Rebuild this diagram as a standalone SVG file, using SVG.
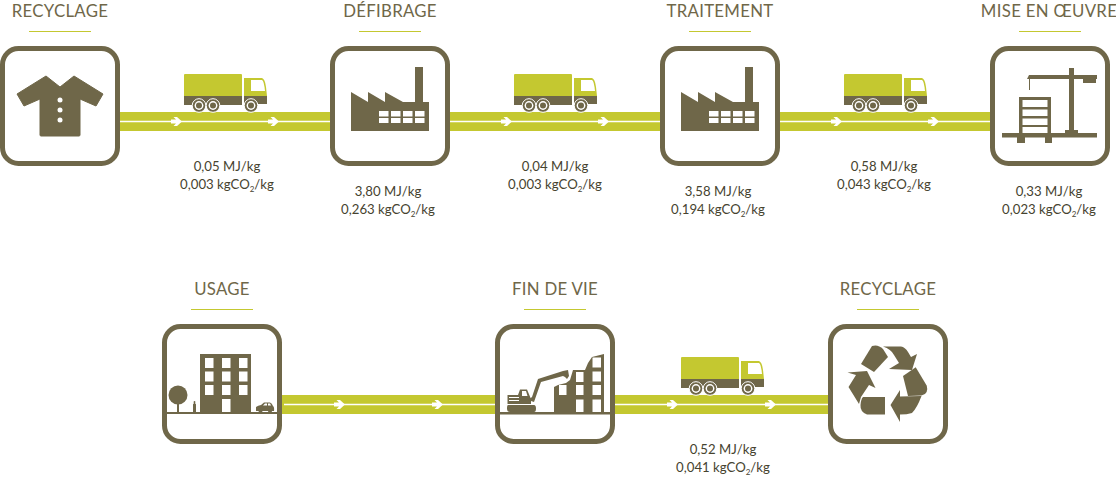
<svg xmlns="http://www.w3.org/2000/svg" width="1116" height="477" viewBox="0 0 1116 477">
<style>
.t{font-family:Lato,"Noto Sans",sans-serif;font-size:16.800px;fill:#6f6749;text-anchor:middle;letter-spacing:.3px}
.v{font-family:Lato,"Noto Sans",sans-serif;font-size:13.200px;fill:#46432f;text-anchor:middle}
.s{font-size:8px}
.u{stroke:#c4c830;stroke-width:1;fill:none}
.b{fill:#fff;stroke:#6f6749;stroke-width:5}
.o{fill:#6f6749}
.w{fill:#fff}
.l{fill:#c4c830}
.r{stroke:#fff;stroke-width:1.5;fill:none}
.a{fill:#fff}
</style>
<defs>
<g id="truck">
<path class="l" d="M185 74H241Q242 74 242 75V96H184V75Q184 74 185 74Z"/>
<path class="o" d="M184 96H242V105H184Z"/>
<path class="l" d="M244 78H262Q265 79 266 87L267 96H244Z"/>
<path class="o" d="M244 96H267V104H244Z"/>
<path class="w" d="M251 80H262Q264 81 265 91H251Z"/>
<g id="wh"><circle class="o" cx="199" cy="105.500" r="6.800" stroke="#fff" stroke-width="1"/><circle class="w" cx="199" cy="105.500" r="4.400"/><circle class="o" cx="199" cy="105.500" r="3"/></g>
<use href="#wh" x="14"/>
<use href="#wh" x="52"/>
</g>
<path id="arr" class="a" d="M171 119.500H176L173.500 117H177L182 121.500L177 126H173.500L176 123.500H171Z"/>
<g id="factory">
<path class="o" d="M351 92L368 102V92L385 102V92L403 102H415V67H423V102H429V131H351Z"/>
<g class="w">
<rect x="379" y="111" width="9.500" height="5.500"/><rect x="391" y="111" width="9.500" height="5.500"/><rect x="403" y="111" width="9.500" height="5.500"/><rect x="415" y="111" width="9.500" height="5.500"/>
<rect x="379" y="118" width="9.500" height="5"/><rect x="391" y="118" width="9.500" height="5"/><rect x="403" y="118" width="9.500" height="5"/><rect x="415" y="118" width="9.500" height="5"/>
</g>
</g>
</defs>

<g id="connectors">
<rect class="l" x="118" y="112" width="874" height="19"/>
<path class="r" d="M120 121.500H990"/>
<rect class="l" x="280" y="395" width="550" height="19"/>
<path class="r" d="M284 404.500H828"/>
<use href="#arr"/><use href="#arr" x="97"/>
<use href="#arr" x="330"/><use href="#arr" x="427"/>
<use href="#arr" x="660"/><use href="#arr" x="757"/>
<use href="#arr" x="163" y="283"/><use href="#arr" x="261" y="283"/>
<use href="#arr" x="496" y="283"/><use href="#arr" x="594" y="283"/>
<use href="#truck"/>
<use href="#truck" x="330"/>
<use href="#truck" x="660"/>
<use href="#truck" x="497" y="283"/>
</g>

<g id="recyclage1">
<text class="t" x="60" y="16.500">RECYCLAGE</text><path class="u" d="M29 31.500H91"/>
<rect class="b" x="2.500" y="48.500" width="115" height="115" rx="16"/>
<path class="o" d="M17 94L46 76L60 87L74 76L103 94L96 106L80 99V135Q80 136 79 136H41Q40 136 40 135V99L24 106Z" stroke="#6f6749" stroke-width="1" stroke-linejoin="round"/>
<circle class="w" cx="60" cy="100" r="2.500"/><circle class="w" cx="60" cy="110" r="2.500"/><circle class="w" cx="60" cy="120" r="2.500"/>
</g>

<g id="defibrage">
<text class="t" x="390" y="16.500">DÉFIBRAGE</text><path class="u" d="M359 31.500H421"/>
<rect class="b" x="332.500" y="48.500" width="115" height="115" rx="16"/>
<use href="#factory"/>
</g>

<g id="traitement">
<text class="t" x="720" y="16.500">TRAITEMENT</text><path class="u" d="M689 31.500H751"/>
<rect class="b" x="662.500" y="48.500" width="115" height="115" rx="16"/>
<use href="#factory" x="330"/>
</g>

<g id="miseenoeuvre">
<text class="t" x="1049" y="16.500">MISE EN ŒUVRE</text><path class="u" d="M1019 31.500H1081"/>
<rect class="b" x="992.500" y="48.500" width="115" height="115" rx="16"/>
<g class="o">
<path d="M1029 75H1069V68H1074V75H1097V79H1096V83H1083V79H1030V90H1029V79H1027Z"/>
<rect x="1069" y="79" width="5" height="52"/>
<rect x="1065" y="130" width="13" height="4"/>
<rect x="1002" y="133" width="95" height="4.500"/>
<rect x="1017" y="137" width="8" height="6"/><rect x="1045" y="137" width="7" height="6"/>
<path d="M1019 97H1051V133H1047.500V127H1022.500V133H1019ZM1022.500 100V107H1047.500V100ZM1022.500 109.500V116H1047.500V109.500ZM1022.500 118.500V125H1047.500V118.500Z" fill-rule="evenodd"/>
</g>
</g>

<g id="usage">
<text class="t" x="222" y="294.500">USAGE</text><path class="u" d="M191 309.500H253"/>
<rect class="b" x="164.500" y="326.500" width="115" height="115" rx="16"/>
<rect class="o" x="165" y="412" width="114" height="2"/>
<rect class="o" x="200" y="354" width="51" height="58.500"/>
<g class="w">
<rect x="205" y="358" width="8.500" height="10"/><rect x="222" y="358" width="8.500" height="10"/><rect x="239" y="358" width="8.500" height="10"/>
<rect x="205" y="371.500" width="8.500" height="10"/><rect x="222" y="371.500" width="8.500" height="10"/><rect x="239" y="371.500" width="8.500" height="10"/>
<rect x="205" y="385" width="8.500" height="10"/><rect x="222" y="385" width="8.500" height="10"/><rect x="239" y="385" width="8.500" height="10"/>
<rect x="222" y="399" width="8.500" height="13"/>
</g>
<circle class="o" cx="178" cy="395" r="9.500"/><rect class="o" x="177" y="403" width="2" height="10"/>
<path class="o" d="M193 412V404.500Q193 403.500 194 403.500Q193 401 194.500 401Q196 401 195 403.500Q196 403.500 196 404.500V412Z"/>
<path class="o" d="M256 411V407Q258 405.500 261 405L264 402.500H270Q272 403 273 406Q274.500 407 274 411Z"/>
<path class="w" d="M263 405.500L265 403.500H267V405.500ZM268 403.500H270L271 405.500H268Z"/>
<circle class="o" cx="260.500" cy="411" r="2"/><circle class="o" cx="270" cy="411" r="2"/>
</g>

<g id="findevie">
<text class="t" x="555" y="294.500">FIN DE VIE</text><path class="u" d="M524 309.500H586"/>
<rect class="b" x="497.500" y="326.500" width="115" height="115" rx="16"/>
<rect class="o" x="500" y="412" width="110" height="2.500"/>
<path class="o" d="M554 412V387L558 385L566 383L570 380L573 370L585 370L588 363L592 357L604 354V412Z"/>
<g class="w">
<rect x="576" y="372" width="7.500" height="10"/><rect x="592.500" y="357.500" width="8.500" height="10"/><rect x="592.500" y="371.500" width="8.500" height="10"/>
<rect x="559" y="385" width="7.500" height="10"/><rect x="576" y="385" width="7.500" height="10"/><rect x="592.500" y="385" width="8.500" height="10"/>
<rect x="576" y="399.500" width="7.500" height="12.500"/><rect x="592.500" y="399.500" width="8.500" height="12.500"/>
</g>
<path class="o" d="M508 405H534Q536 405 536 408.500Q536 412 534 412H510Q507 412 507 408.500Q507 405 508 405Z"/>
<path class="o" d="M507.500 395H518L520 389.500H527L531 399V404H507.500Z"/>
<path class="w" d="M509 397H519V398H509ZM509 400H519V401H509ZM522 391H526L527.500 396H522Z"/>
<path class="o" d="M528 400L532 397L538 379L563 371L568 370L569 376L567 379L565 377L563 376L541 382L534 402Z"/>
</g>

<g id="recyclage2">
<text class="t" x="888" y="294.500">RECYCLAGE</text><path class="u" d="M857 309.500H919"/>
<rect class="b" x="830.500" y="326.500" width="115" height="115" rx="16"/>
<g class="o">
<path d="M883 346.500H901Q905 347 908 352L911 357L917 354L912 370L889 369L899 363L894 355Q891 349 883 346.500Z"/>
<path d="M903 376L915.700 367.300L926.800 385.700Q929 394 921.500 395.500L908 396Z"/>
<path d="M921.500 396Q917 408 912 413Q907 414.500 900 414.500V422L890.500 405L900 390V396.500Z"/>
<path d="M861 364L872 346Q878 344 883 349L888 357L874 372Z"/>
<path d="M847.500 372.500L867 371L875.500 388L869 385L861 397L859 404L848.500 387L856 375Z"/>
<path d="M863 397H885V414.500H867Q860 412 860.500 405Q861 399 863 397Z"/>
</g>
</g>

<g id="values">
<text class="v" x="227" y="171">0,05 MJ/kg</text>
<text class="v" x="227" y="189">0,003 kgCO<tspan class="s" dy="3">2</tspan><tspan dy="-3">/kg</tspan></text>
<text class="v" x="388" y="196">3,80 MJ/kg</text>
<text class="v" x="388" y="214">0,263 kgCO<tspan class="s" dy="3">2</tspan><tspan dy="-3">/kg</tspan></text>
<text class="v" x="555" y="171">0,04 MJ/kg</text>
<text class="v" x="555" y="189">0,003 kgCO<tspan class="s" dy="3">2</tspan><tspan dy="-3">/kg</tspan></text>
<text class="v" x="718" y="196">3,58 MJ/kg</text>
<text class="v" x="718" y="214">0,194 kgCO<tspan class="s" dy="3">2</tspan><tspan dy="-3">/kg</tspan></text>
<text class="v" x="884" y="171">0,58 MJ/kg</text>
<text class="v" x="884" y="189">0,043 kgCO<tspan class="s" dy="3">2</tspan><tspan dy="-3">/kg</tspan></text>
<text class="v" x="1049" y="196">0,33 MJ/kg</text>
<text class="v" x="1049" y="214">0,023 kgCO<tspan class="s" dy="3">2</tspan><tspan dy="-3">/kg</tspan></text>
<text class="v" x="723" y="454">0,52 MJ/kg</text>
<text class="v" x="723" y="472">0,041 kgCO<tspan class="s" dy="3">2</tspan><tspan dy="-3">/kg</tspan></text>
</g>
</svg>
